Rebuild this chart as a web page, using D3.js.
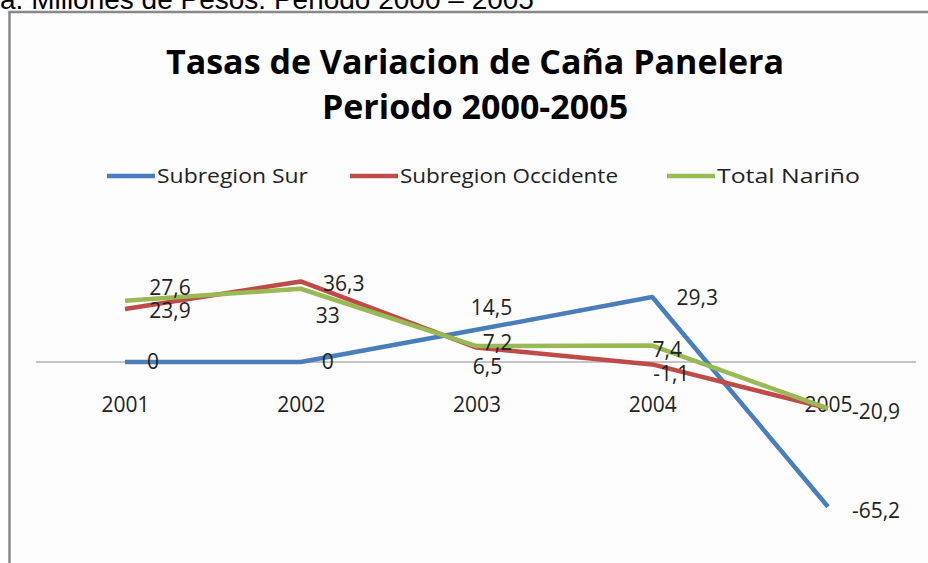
<!DOCTYPE html>
<html>
<head>
<meta charset="utf-8">
<script src="https://cdn.jsdelivr.net/npm/d3@7"></script>
<style>
  body { margin: 0; background: #fff; }
  svg { display: block; }
</style>
</head>
<body>
<svg id="chart" width="928" height="563"></svg>
<script>
// data
const years = ["2001", "2002", "2003", "2004", "2005"];
const seriesNames = ["Subregion Sur", "Subregion Occidente", "Total Nariño"];
const sur = [0, 0, 14.5, 29.3, -65.2];
const occidente = [23.9, 36.3, 6.5, -1.1, -20.9];
const totalNarino = [27.6, 33, 7.2, 7.4, -20.9];

const colors = ["#4a7ebb", "#be4b48", "#98b954"];

// label nudges (dx, dy) in px, one per point, like the hand-moved excel labels
const labelNudge = [
    [[28, 0], [27, 0], [15, -22], [45, 1], [48, 4]],
    [[45, 2], [43, 2], [11, 19], [19, 9], [48, 3]],
    [[45, -13], [27, 27], [21, -3], [15, 4], [48, 3]]
];

let svg = d3.select("#chart");
const font = "'Open Sans', Lato, sans-serif";

// caption cut off at the top of the page
svg.append("text")
    .attr("x", 0)
    .attr("y", 9)
    .attr("font-family", "'Liberation Sans', Arial, sans-serif")
    .attr("font-size", 28)
    .attr("fill", "#000")
    .text("a. Millones de Pesos:  Periodo 2000 – 2005");

// chart frame
svg.append("rect")
    .attr("x", 9.5)
    .attr("y", 12)
    .attr("width", 940)
    .attr("height", 580)
    .attr("fill", "#fdfdfd")
    .attr("stroke", "#888")
    .attr("stroke-width", 2.5);

// title
const titleLines = ["Tasas de Variacion de Caña Panelera", "Periodo 2000-2005"];
titleLines.forEach((t, i) => {
    svg.append("text")
        .attr("x", 475)
        .attr("y", 74 + i * 45)
        .attr("text-anchor", "middle")
        .attr("font-family", font)
        .attr("font-weight", "bold")
        .attr("font-size", 34)
        .attr("fill", "#000")
        .text(t);
});

// legend
const legendX = [107, 350, 667];
const legendTextW = [151, 218, 143];
let legend = svg.append("g").attr("font-family", font).attr("font-size", 20);
seriesNames.forEach((name, i) => {
    legend.append("line")
        .attr("x1", legendX[i]).attr("x2", legendX[i] + 48)
        .attr("y1", 176).attr("y2", 176)
        .attr("stroke", colors[i])
        .attr("stroke-width", 4.5);
    legend.append("text")
        .attr("x", legendX[i] + 50)
        .attr("y", 176)
        .attr("dy", "0.35em")
        .attr("fill", "#222")
        .attr("textLength", legendTextW[i])
        .attr("lengthAdjust", "spacingAndGlyphs")
        .text(name);
});

// scales
let xScale = d3.scalePoint()
    .domain(years)
    .range([125, 828]);

let yScale = d3.scaleLinear()
    .domain([-80, 40])
    .range([539.6, 273.2]);

// zero line and category labels
svg.append("line")
    .attr("x1", 36).attr("x2", 916)
    .attr("y1", yScale(0)).attr("y2", yScale(0))
    .attr("stroke", "#8c8c8c")
    .attr("stroke-width", 1);

let xAxis = svg.append("g")
    .attr("transform", `translate(0,${yScale(0) + 43})`)
    .call(d3.axisBottom(xScale).tickSize(0).tickPadding(0));
xAxis.select(".domain").remove();
xAxis.selectAll("text")
    .attr("font-family", font)
    .attr("font-size", 21)
    .attr("fill", "#222")
    .attr("dy", "0.35em");

// lines
const allSeries = [sur, occidente, totalNarino];
let line = d3.line()
    .x((d, i) => xScale(years[i]))
    .y(d => yScale(d));

allSeries.forEach((values, s) => {
    svg.append("path")
        .datum(values)
        .attr("fill", "none")
        .attr("stroke", colors[s])
        .attr("stroke-width", 4.5)
        .attr("stroke-linejoin", "round")
        .attr("d", line);
});

// data labels; a label that would sit exactly on an earlier one is drawn once
allSeries.forEach((values, s) => {
    let shown = values.map((d, i) => ({ d, i }))
        .filter(p => !allSeries.slice(0, s).some(other => other[p.i] === p.d));
    svg.append("g")
        .selectAll("text")
        .data(shown)
        .enter()
        .append("text")
        .attr("x", p => xScale(years[p.i]) + labelNudge[s][p.i][0])
        .attr("y", p => yScale(p.d) + labelNudge[s][p.i][1])
        .attr("dy", "0.35em")
        .attr("text-anchor", "middle")
        .attr("font-family", font)
        .attr("font-size", 21)
        .attr("fill", "#222")
        .text(p => String(p.d).replace(".", ","));
});
</script>
</body>
</html>
